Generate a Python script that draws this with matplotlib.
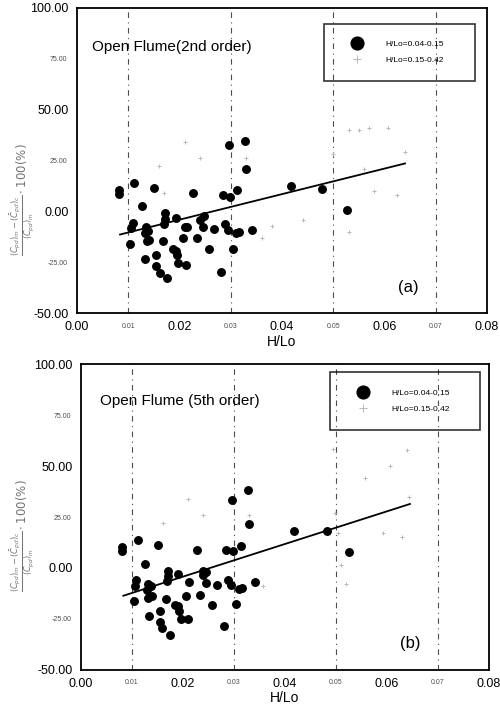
"""Relative error of Cpd vs H/Lo, open flume, 2nd and 5th order theory (two panels)."""
import numpy as np
import matplotlib
matplotlib.use("Agg")
import matplotlib.pyplot as plt
from matplotlib.ticker import FixedLocator, FixedFormatter

plt.rcParams["font.family"] = ["Liberation Sans", "DejaVu Sans"]

# panel (a): 2nd order, H/Lo = 0.04-0.15
xa = [0.0081, 0.0081, 0.0112, 0.0127, 0.0150, 0.0172, 0.0172, 0.0170, 0.0193, 0.0227,
      0.0240, 0.0248, 0.0284, 0.0299, 0.0313, 0.0329, 0.0296, 0.0328, 0.0109, 0.0105,
      0.0103, 0.0135, 0.0139, 0.0133, 0.0140, 0.0136, 0.0168, 0.0133, 0.0155, 0.0155,
      0.0161, 0.0176, 0.0187, 0.0193, 0.0195, 0.0197, 0.0212, 0.0206, 0.0211, 0.0214,
      0.0234, 0.0246, 0.0257, 0.0267, 0.0281, 0.0288, 0.0295, 0.0305, 0.0310, 0.0317,
      0.0342, 0.0418, 0.0479, 0.0526]
ya = [10.5, 8.5, 13.7, 2.5, 11.5, -0.8, -3.7, -6.2, -3.2, 9.2,
      -4.2, -2.3, 8.2, 6.9, 10.5, 21.0, 32.7, 34.5, -5.9, -8.1,
      -16.3, -7.8, -9.5, -10.8, -13.9, -14.4, -14.7, -23.7, -21.4, -27.0,
      -30.2, -32.8, -18.4, -19.3, -21.4, -25.3, -26.6, -13.2, -7.5, -7.5,
      -12.9, -7.8, -18.4, -8.5, -29.6, -6.5, -9.1, -18.3, -10.8, -10.4,
      -9.1, 12.6, 11.0, 0.7]
# panel (a): H/Lo = 0.15-0.42 (faint in the original)
xa2 = [0.016, 0.017, 0.021, 0.024, 0.033, 0.036, 0.038, 0.044, 0.050, 0.053,
       0.055, 0.057, 0.058, 0.0607, 0.0625, 0.064, 0.056, 0.053]
ya2 = [22, 9, 34, 26, 26, -13, -7, -4.5, 28, 40,
       40, 41, 10, 41, 8, 29, 21, -10]
fit_a = (628.0, -16.7)  # slope, intercept
fit_a_x = [0.0084, 0.064]

# panel (b): 5th order, H/Lo = 0.04-0.15
xb = [0.0080, 0.0080, 0.0112, 0.0150, 0.0126, 0.0227, 0.0284, 0.0299, 0.0314, 0.0330,
      0.0297, 0.0328, 0.0171, 0.0170, 0.0169, 0.0191, 0.0240, 0.0246, 0.0239, 0.0108,
      0.0106, 0.0103, 0.0132, 0.0137, 0.0130, 0.0139, 0.0132, 0.0167, 0.0133, 0.0155,
      0.0154, 0.0159, 0.0175, 0.0184, 0.0190, 0.0193, 0.0196, 0.0210, 0.0205, 0.0211,
      0.0233, 0.0245, 0.0256, 0.0267, 0.0280, 0.0288, 0.0294, 0.0304, 0.0310, 0.0316,
      0.0341, 0.0418, 0.0483, 0.0526]
yb = [10.3, 8.2, 13.6, 11.3, 2.1, 8.7, 9.0, 8.2, 11.0, 21.8,
      33.3, 38.2, -1.3, -3.8, -6.6, -3.1, -1.3, -2.2, -3.3, -6.1,
      -8.7, -16.4, -7.7, -9.0, -11.0, -13.6, -14.8, -15.3, -23.8, -21.0,
      -26.7, -29.5, -33.1, -18.2, -18.9, -21.0, -24.9, -24.9, -13.6, -7.1,
      -13.1, -7.4, -18.1, -8.2, -28.4, -6.1, -8.2, -17.7, -10.3, -9.7,
      -7.1, 18.0, 18.0, 7.7]
xb2 = [0.016, 0.021, 0.024, 0.033, 0.0357, 0.0494, 0.0498, 0.0504, 0.051, 0.052,
       0.0557, 0.0592, 0.0606, 0.063, 0.064, 0.0643]
yb2 = [22, 34, 26, 26, -9, 58.7, 27, 17, 1.5, -8,
       44, 17, 50, 15, 58, 35]
fit_b = (802.5, -20.3)
fit_b_x = [0.0083, 0.0645]

labels = ["H/Lo=0.04-0.15", "H/Lo=0.15-0.42"]
xmaj = [0.0, 0.02, 0.04, 0.06, 0.08]
xmin = [0.01, 0.03, 0.05, 0.07]
ymaj = [-50, 0, 50, 100]
ymin = [-25, 25, 75]
ylab = r"$\frac{(C_{pd})_m-(\bar{C}_{pd})_c}{(C_{pd})_m}\cdot 100(\%)$"


def panel(ax, x1, y1, x2, y2, fit, fx, title, tag, title_xy, leg_box, ylab_xy):
    for g in xmin:
        ax.axvline(g, color="0.3", lw=0.8, dashes=(5, 4, 1, 4), zorder=1)
    ax.plot(x1, y1, "o", color="k", ms=5.4, zorder=3, label=labels[0])
    ax.plot(x2, y2, "+", color="0.72", ms=3, mew=0.7, zorder=2, label=labels[1])
    fx = np.array(fx)
    ax.plot(fx, fit[0] * fx + fit[1], "-", color="k", lw=1.3, zorder=4)
    ax.set_xlim(0, 0.08); ax.set_ylim(-50, 100)
    ax.xaxis.set_major_locator(FixedLocator(xmaj))
    ax.xaxis.set_major_formatter(FixedFormatter([f"{v:.2f}" for v in xmaj]))
    ax.xaxis.set_minor_locator(FixedLocator(xmin))
    ax.xaxis.set_minor_formatter(FixedFormatter([f"{v:.2f}" for v in xmin]))
    ax.yaxis.set_major_locator(FixedLocator(ymaj))
    ax.yaxis.set_major_formatter(FixedFormatter([f"{v:.2f}" for v in ymaj]))
    ax.yaxis.set_minor_locator(FixedLocator(ymin))
    ax.yaxis.set_minor_formatter(FixedFormatter([f"{v:.2f}" for v in ymin]))
    ax.tick_params(which="major", labelsize=9, length=0, pad=6)
    ax.tick_params(which="minor", labelsize=5, length=0, pad=7, labelcolor="0.3")
    for s in ax.spines.values():
        s.set_linewidth(1.3)
    ax.set_xlabel("H/Lo", fontsize=10, labelpad=1)
    ax.set_ylabel(ylab, fontsize=8.5, color="0.45")
    ax.yaxis.set_label_coords(*ylab_xy)
    ax.text(*title_xy, title, transform=ax.transAxes, fontsize=11, va="center", ha="left")
    ax.text(0.807, 0.085, tag, transform=ax.transAxes, fontsize=12, va="center", ha="center")
    leg = ax.legend(loc="upper left", bbox_to_anchor=leg_box, mode="expand", borderaxespad=0,
                    fontsize=6, markerscale=1.7, handlelength=4, handletextpad=1.4,
                    borderpad=2.0, labelspacing=1.0, fancybox=False, frameon=True)
    leg.get_frame().set_edgecolor("k"); leg.get_frame().set_linewidth(1.2)
    leg.get_frame().set_facecolor("none")


fig = plt.figure(figsize=(5.0, 7.05), dpi=100)
ax1 = fig.add_axes([0.154, 0.556, 0.820, 0.433])
ax2 = fig.add_axes([0.162, 0.050, 0.816, 0.433])
panel(ax1, xa, ya, xa2, ya2, fit_a, fit_a_x, "Open Flume(2nd order)", "(a)",
      (0.037, 0.872), (0.602, 0.738, 0.369, 0.21), (-0.10, 0.37))
panel(ax2, xb, yb, xb2, yb2, fit_b, fit_b_x, "Open Flume (5th order)", "(b)",
      (0.047, 0.879), (0.610, 0.764, 0.368, 0.21), (-0.11, 0.44))
fig.savefig("out.png", dpi=100)
print("wrote out.png")
